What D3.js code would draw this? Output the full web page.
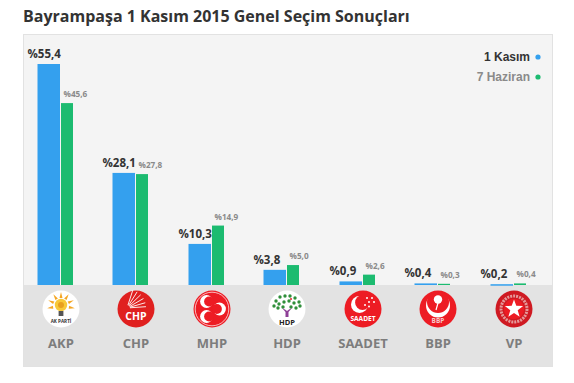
<!DOCTYPE html>
<html><head><meta charset="utf-8">
<script src="https://cdn.jsdelivr.net/npm/d3@7/dist/d3.min.js"></script>
<style>html,body{margin:0;padding:0;background:#fff}svg{display:block}text{font-family:"Open Sans",sans-serif}</style>
</head><body><svg id="c" width="574" height="383"></svg>
<script>
const titleText = "Bayrampaşa 1 Kasım 2015 Genel Seçim Sonuçları";
const parties = ["AKP","CHP","MHP","HDP","SAADET","BBP","VP"];
const kasim = [55.4,28.1,10.3,3.8,0.9,0.4,0.2];
const haziran = [45.6,27.8,14.9,5.0,2.6,0.3,0.4];
const seriesNames = ["1 Kasım","7 Haziran"];
const fmt = v => "%" + v.toFixed(1).replace(".", ",");

const svg = d3.select("#c");
const blue = "#34a0ee", green = "#1cbb70", red = "#ed1c24";
const x = d3.scaleBand().domain(parties).range([23.5,551.5]);
const y = d3.scaleLinear().domain([0,55.4]).range([285,64]);
const bw1 = 22.5, bw2 = 12, gap = 1;
const cx = p => Math.round(x(p) + x.bandwidth()/2 - 0.2);

function label(g,t,ty,fs,fill){g.append("text").attr("y",ty).attr("text-anchor","middle").attr("font-size",fs).attr("font-weight",700).attr("fill",fill).text(t);}
function disc(g,fill){g.append("circle").attr("r",18.5).attr("fill",fill);}

const logos = {
  AKP(g){
    disc(g,"#fff");
    d3.range(7).forEach(k=>{
      const a=(k-3)*33;
      g.append("path").attr("d","M-1.5,-8 L0,-14 L1.5,-8Z").attr("fill","#f5a623").attr("transform",`translate(0,-3) rotate(${a})`);
    });
    g.append("circle").attr("cy",-4).attr("r",6.2).attr("fill","#f8c93a");
    g.append("circle").attr("cy",-4).attr("r",3).attr("fill","#e8a020");
    g.append("rect").attr("x",-2.4).attr("y",2).attr("width",4.8).attr("height",5).attr("fill","#555");
    label(g,"AK PARTİ",13.5,4.6,"#333");
  },
  CHP(g){
    disc(g,"#e0201f");
    [-72,-58,-44,-30,-16,-4].forEach(a=>{
      const r=a*Math.PI/180;
      g.append("line").attr("x1",-9+3*Math.cos(r)).attr("y1",-1+3*Math.sin(r)).attr("x2",-9+19*Math.cos(r)).attr("y2",-1+19*Math.sin(r))
       .attr("stroke","#fff").attr("stroke-width",0.9);
    });
    label(g,"CHP",11,10.5,"#fff");
  },
  MHP(g){
    disc(g,"#ed1c24");
    g.append("circle").attr("r",16.8).attr("fill","none").attr("stroke","#fff").attr("stroke-width",.7);
    [[-5.5,-7.5,0],[-5.5,7.5,0],[7.5,0,180]].forEach(([a,b,r])=>{
      const s=g.append("g").attr("transform",`translate(${a},${b}) rotate(${r})`);
      s.append("circle").attr("r",6.4).attr("fill","#fff");
      s.append("circle").attr("cx",2.6).attr("r",5).attr("fill",red);
    });
  },
  HDP(g){
    disc(g,"#fff");
    [[-11,-8],[-7,-12],[-2,-13],[3,-13],[8,-11],[12,-7],[-13,-3],[-8,-5],[-3,-7],[2,-8],[7,-6],[13,-3],[-9,-1],[-4,-2],[4,-2],[9,-1]].forEach(([a,b])=>{
      g.append("circle").attr("cx",a).attr("cy",b).attr("r",1.7).attr("fill","#2f8f3a");
    });
    g.append("circle").attr("cx",4).attr("cy",-10).attr("r",1).attr("fill","#e3262a");
    g.append("path").attr("d","M-5,-1 L-1.5,3 L-1.5,8 L1.5,8 L1.5,3 L5,-1 L2,0.5 L0,2 L-2,0.5Z").attr("fill","#8e3f97");
    label(g,"HDP",15.5,7.5,"#222");
  },
  SAADET(g){
    disc(g,red);
    g.append("circle").attr("cx",-3.5).attr("cy",-4.5).attr("r",8.5).attr("fill","#fff");
    g.append("circle").attr("cx",-0.5).attr("cy",-6.5).attr("r",7.4).attr("fill",red);
    [[4,-11],[9,-11],[6,-7],[11,-7],[6,-2.5],[2,-4]].forEach(([a,b])=>{
      g.append("circle").attr("cx",a).attr("cy",b).attr("r",1).attr("fill","#fff");
    });
    label(g,"SAADET",11.5,6.6,"#fff");
  },
  BBP(g){
    disc(g,red);
    g.append("circle").attr("cy",-3.5).attr("r",12).attr("fill","#fff");
    g.append("circle").attr("cy",-7).attr("r",11).attr("fill",red);
    g.append("circle").attr("cy",-9.5).attr("r",4.2).attr("fill","#fff");
    g.append("path").attr("d","M0,-6 L-2,1").attr("stroke","#fff").attr("stroke-width",1.2);
    label(g,"BBP",14,6.5,"#f7c9c9");
  },
  VP(g){
    disc(g,"#cf1a22");
    g.append("circle").attr("r",13).attr("fill","none").attr("stroke","#e59a9a").attr("stroke-width",3).attr("stroke-dasharray","2 1");
    g.append("circle").attr("r",10.2).attr("fill",red);
    const star=d3.range(10).map(k=>{const r=k%2?3.9:9.6,a=k*Math.PI/5;return [r*Math.sin(a),-r*Math.cos(a)];});
    g.append("path").attr("d",d3.line()(star)+"Z").attr("fill","#fff");
  }
};

svg.append("text").attr("x",23).attr("y",22).attr("font-size",16).attr("font-weight",700).attr("fill","#333").text(titleText);
svg.append("rect").attr("x",23.5).attr("y",34.5).attr("width",529).attr("height",332).attr("fill","#f4f4f4").attr("stroke","#e2e2e2");
svg.append("rect").attr("x",24).attr("y",285).attr("width",528).attr("height",81).attr("fill","#e3e3e3");

parties.forEach((p,i)=>{
  const c = cx(p), e = c-1;
  svg.append("rect").attr("x",e-bw1).attr("y",y(kasim[i])).attr("width",bw1).attr("height",Math.max(y(0)-y(kasim[i]),1.5)).attr("fill",blue);
  svg.append("rect").attr("x",e+gap).attr("y",y(haziran[i])).attr("width",bw2).attr("height",Math.max(y(0)-y(haziran[i]),1)).attr("fill",green);
  svg.append("text").attr("x",e-bw1-10).attr("y",y(kasim[i])-6).attr("font-size",11.5).attr("font-weight",700).attr("fill","#333").text(fmt(kasim[i]));
  svg.append("text").attr("x",c+2.5).attr("y",y(haziran[i])-6).attr("font-size",8.2).attr("font-weight",700).attr("fill","#8a8a8a").text(fmt(haziran[i]));
  svg.append("text").attr("x",c).attr("y",348).attr("text-anchor","middle").attr("font-size",13).attr("font-weight",700).attr("fill","#7d7d7d").text(p);
  logos[p](svg.append("g").attr("transform",`translate(${c},309)`));
});

[[seriesNames[0],"#333",blue,61],[seriesNames[1],"#8a8a8a",green,81]].forEach(([t,tc,dc,ly])=>{
  svg.append("text").attr("x",530).attr("y",ly).attr("text-anchor","end").style("font-family","'Liberation Sans',Arial,sans-serif").attr("font-size",12).attr("font-weight",700).attr("fill",tc).text(t);
  svg.append("circle").attr("cx",538).attr("cy",ly-4).attr("r",2.6).attr("fill",dc);
});
</script>
</body></html>
